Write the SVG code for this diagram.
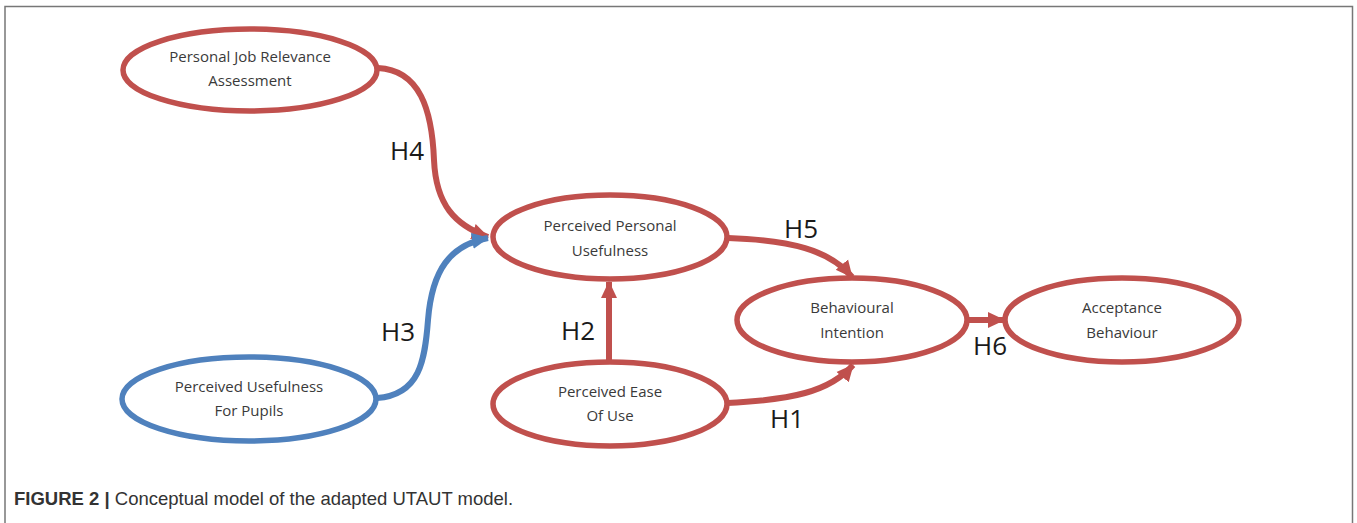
<svg xmlns="http://www.w3.org/2000/svg" width="1357" height="523" viewBox="0 0 1357 523">
<style>
.node ellipse{fill:#ffffff;stroke-width:5.5}
.red ellipse{stroke:#c0504d}
.blue ellipse{stroke:#4f81bd}
.nt{font-family:"Open Sans","Liberation Sans",sans-serif;font-size:15px;fill:#3a3a3a;text-anchor:middle}
.hl{font-family:"Open Sans","Liberation Sans",sans-serif;font-size:26px;fill:#1a1a1a;text-anchor:middle}
.conn path{fill:none;stroke-width:6}
.cr{stroke:#c0504d}
.cb{stroke:#4f81bd}
.cap{font-family:"Liberation Sans",Arial,sans-serif;font-size:18.5px;fill:#333333}
</style>
<defs>
<marker id="ar" markerUnits="userSpaceOnUse" markerWidth="18" markerHeight="18" refX="16" refY="9" orient="auto"><path d="M0,1 L17,9 L0,17 z" fill="#c0504d"/></marker>
<marker id="ab" markerUnits="userSpaceOnUse" markerWidth="18" markerHeight="18" refX="16" refY="9" orient="auto"><path d="M0,1 L17,9 L0,17 z" fill="#4f81bd"/></marker>
</defs>
<rect width="1357" height="523" fill="#ffffff"/>
<path d="M5,523 V6.5 H1352.5 V523" fill="none" stroke="#777777" stroke-width="1.5"/>

<g id="connectors" class="conn">
<path class="cr" d="M378,68 C420,70 432,110 434,160 C436,205 455,225 488,237" marker-end="url(#ar)"/>
<path class="cb" d="M377,398 C420,395 425,360 428,320 C432,270 450,245 488,238" marker-end="url(#ab)"/>
<path class="cr" d="M609,362 V282" marker-end="url(#ar)"/>
<path class="cr" d="M728,238 C790,240 830,250 852,277" marker-end="url(#ar)"/>
<path class="cr" d="M727,403 C790,400 830,392 853,365" marker-end="url(#ar)"/>
<path class="cr" d="M967,320 H1004" marker-end="url(#ar)"/>
</g>

<g id="labels">
<text class="hl" x="407" y="160">H4</text>
<text class="hl" x="398" y="341">H3</text>
<text class="hl" x="578" y="340">H2</text>
<text class="hl" x="801" y="238">H5</text>
<text class="hl" x="787" y="428">H1</text>
<text class="hl" x="990" y="355">H6</text>
</g>

<g id="n-pjra" class="node red">
<ellipse cx="250" cy="70" rx="127" ry="41"/>
<text class="nt" x="250" y="62">Personal Job Relevance</text>
<text class="nt" x="250" y="86">Assessment</text>
</g>
<g id="n-pufp" class="node blue">
<ellipse cx="249" cy="399" rx="127" ry="42"/>
<text class="nt" x="249" y="392">Perceived Usefulness</text>
<text class="nt" x="249" y="416">For Pupils</text>
</g>
<g id="n-ppu" class="node red">
<ellipse cx="610" cy="237" rx="117" ry="42"/>
<text class="nt" x="610" y="231">Perceived Personal</text>
<text class="nt" x="610" y="256">Usefulness</text>
</g>
<g id="n-peou" class="node red">
<ellipse cx="610" cy="404" rx="117" ry="42"/>
<text class="nt" x="610" y="397">Perceived Ease</text>
<text class="nt" x="610" y="421">Of Use</text>
</g>
<g id="n-bi" class="node red">
<ellipse cx="852" cy="320" rx="115" ry="42"/>
<text class="nt" x="852" y="313">Behavioural</text>
<text class="nt" x="852" y="338">Intention</text>
</g>
<g id="n-ab" class="node red">
<ellipse cx="1122" cy="320" rx="117" ry="42"/>
<text class="nt" x="1122" y="313">Acceptance</text>
<text class="nt" x="1122" y="338">Behaviour</text>
</g>

<text class="cap" x="14" y="505"><tspan font-weight="bold">FIGURE 2 |</tspan> Conceptual model of the adapted UTAUT model.</text>
</svg>
